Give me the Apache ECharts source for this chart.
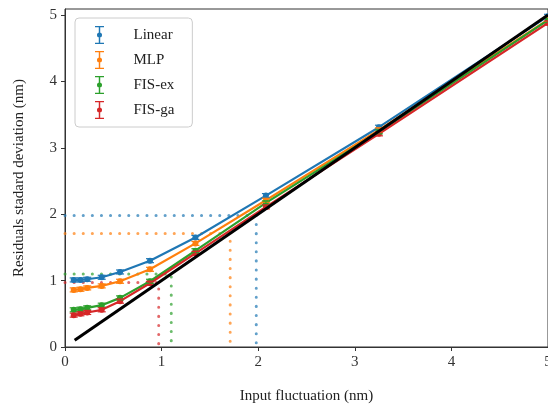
<!DOCTYPE html>
<html>
<head>
<meta charset="utf-8">
<script src="https://cdn.jsdelivr.net/npm/echarts@6/dist/echarts.min.js"></script>
<style>
  html, body { margin: 0; padding: 0; background: #fff; }
  #chart { width: 548px; height: 407px; }
</style>
</head>
<body>
<div id="chart"></div>
<script>
// input fluctuation (nm)
var xs = [0.09, 0.16, 0.23, 0.38, 0.57, 0.88, 1.35, 2.08, 3.25, 5.0];
// residual std (nm) for each model
var linear = [1.01, 1.01, 1.02, 1.05, 1.13, 1.30, 1.65, 2.28, 3.31, 4.98];
var mlp    = [0.86, 0.87, 0.89, 0.92, 0.99, 1.17, 1.56, 2.21, 3.27, 4.93];
var fisEx  = [0.56, 0.57, 0.59, 0.63, 0.74, 0.99, 1.45, 2.17, 3.24, 4.92];
var fisGa  = [0.48, 0.50, 0.52, 0.56, 0.69, 0.96, 1.41, 2.11, 3.21, 4.88];
var errs   = [0.03, 0.03, 0.03, 0.03, 0.03, 0.03, 0.03, 0.03, 0.03, 0.03];
// where each model crosses y = x
var thresholds = [1.98, 1.71, 1.10, 0.97];
var identity = [[0.1, 0.1], [5, 5]];
var ticks = [0, 1, 2, 3, 4, 5];

var names = ['Linear', 'MLP', 'FIS-ex', 'FIS-ga'];
var colors = ['#1f77b4', '#ff7f0e', '#2ca02c', '#d62728'];
var values = [linear, mlp, fisEx, fisGa];

var font = 'Liberation Serif';
// error bar glyph for the legend: caps, stem, dot
var iconPath = 'path://M0,0L10,0L10,1.5L0,1.5Z M4.2,1.5L5.8,1.5L5.8,18.5L4.2,18.5Z M0,18.5L10,18.5L10,20L0,20Z M2.2,10A2.8,2.8 0 1,1 7.8,10A2.8,2.8 0 1,1 2.2,10Z';

function pairs(ys) {
    return xs.map(function (x, i) { return [x, ys[i]]; });
}

var series = [];

// dotted guide lines
thresholds.forEach(function (t, i) {
    series.push({
        type: 'line',
        data: [[0, t], [t, t], [t, 0]],
        symbol: 'none',
        silent: true,
        z: 1,
        lineStyle: { color: colors[i], opacity: 0.7, width: 3, type: [0.1, 9], cap: 'round' }
    });
});

// model curves + error bars
values.forEach(function (ys, i) {
    series.push({
        name: names[i],
        type: 'line',
        data: pairs(ys),
        symbol: 'circle',
        symbolSize: 6,
        z: 3,
        color: colors[i],
        itemStyle: { color: colors[i], borderWidth: 0 },
        lineStyle: { width: 2.2 }
    });
    series.push({
        type: 'custom',
        z: 4,
        silent: true,
        data: xs.map(function (x, k) { return [x, ys[k], errs[k]]; }),
        renderItem: function (params, api) {
            var x = api.value(0), y = api.value(1), e = api.value(2);
            var lo = api.coord([x, y - e]);
            var hi = api.coord([x, y + e]);
            var st = { stroke: colors[i], lineWidth: 1.2 };
            return {
                type: 'group',
                children: [
                    { type: 'line', shape: { x1: lo[0], y1: lo[1], x2: hi[0], y2: hi[1] }, style: st },
                    { type: 'line', shape: { x1: lo[0] - 4, y1: lo[1], x2: lo[0] + 4, y2: lo[1] }, style: st },
                    { type: 'line', shape: { x1: hi[0] - 4, y1: hi[1], x2: hi[0] + 4, y2: hi[1] }, style: st }
                ]
            };
        }
    });
});

// y = x reference
series.push({
    type: 'line',
    data: identity,
    symbol: 'none',
    z: 5,
    silent: true,
    lineStyle: { color: '#000', width: 3 }
});

var chart = echarts.init(document.getElementById('chart'));
chart.setOption({
    animation: false,
    textStyle: { fontFamily: font },
    grid: {
        left: 65, right: 0, top: 9, bottom: 60,
        outerBoundsMode: 'none',
        containLabel: false,
        show: true, borderColor: '#333', borderWidth: 1
    },
    legend: {
        data: names,
        left: 75,
        top: 18,
        orient: 'vertical',
        icon: iconPath,
        itemWidth: 10,
        itemHeight: 18,
        itemGap: 7,
        padding: [8, 18, 8, 20],
        borderColor: '#ccc',
        borderWidth: 1,
        borderRadius: 4,
        backgroundColor: 'rgba(255,255,255,0.8)',
        textStyle: { fontFamily: font, fontSize: 15, color: '#222', padding: [0, 0, 0, 24] }
    },
    xAxis: {
        type: 'value',
        min: 0,
        max: 5,
        interval: 1,
        name: 'Input fluctuation (nm)',
        nameLocation: 'middle',
        nameGap: 42,
        nameTextStyle: { fontFamily: font, fontSize: 15, color: '#222' },
        axisLine: { show: true, lineStyle: { color: '#333', width: 1 } },
        axisTick: { show: true, length: 4, lineStyle: { color: '#333' } },
        axisLabel: { fontFamily: font, fontSize: 15, color: '#333', margin: 8 },
        splitLine: { show: false }
    },
    yAxis: {
        type: 'value',
        min: 0,
        max: 5.09,
        name: 'Residuals stadard deviation (nm)',
        nameLocation: 'middle',
        nameGap: 38,
        nameTextStyle: { fontFamily: font, fontSize: 15, color: '#222' },
        axisLine: { show: true, lineStyle: { color: '#333', width: 1 } },
        axisTick: { show: true, length: 4, lineStyle: { color: '#333' }, customValues: ticks },
        axisLabel: { fontFamily: font, fontSize: 15, color: '#333', margin: 8, customValues: ticks },
        splitLine: { show: false }
    },
    series: series
});
</script>
</body>
</html>
